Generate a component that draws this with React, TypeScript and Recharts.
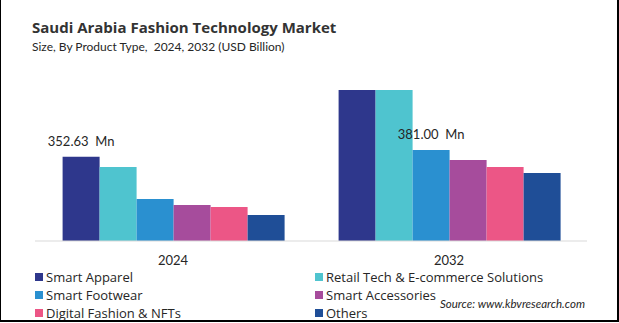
import { BarChart, Bar, XAxis, YAxis, LabelList } from 'recharts';

const years = ['2024', '2032'];
const segments = [
  'Smart Apparel',
  'Retail Tech & E-commerce Solutions',
  'Smart Footwear',
  'Smart Accessories',
  'Digital Fashion & NFTs',
  'Others',
];
const colors = ['#2e378c', '#4fc4cf', '#2a90d0', '#a64c9c', '#ec5686', '#1f4e97'];

// USD Mn
const smartApparel = [352.63, 633];
const retailTech = [310, 633];
const smartFootwear = [176, 381];
const smartAccessories = [151, 339];
const digitalFashion = [142, 310];
const others = [109, 285];

// which bars carry a value callout: series index -> year index
const callouts: Record<number, number> = { 0: 0, 2: 1 };

const series = [smartApparel, retailTech, smartFootwear, smartAccessories, digitalFashion, others];
const keys = ['s0', 's1', 's2', 's3', 's4', 's5'];

const data = years.map((y, i) => {
  const row: any = { year: y };
  series.forEach((s, k) => (row[keys[k]] = s[i]));
  return row;
});

const font = 'Lato, "Open Sans", sans-serif';
const wide = '"Open Sans", sans-serif';

const makeLabel = (k: number) => (p: any) => {
  if (callouts[k] !== p.index) return null;
  return (
    <text
      x={p.x + p.width / 2}
      y={p.y - 11}
      textAnchor="middle"
      fontSize={13}
      fill="#262626"
      fontFamily={font}
      style={{ whiteSpace: 'pre' }}
    >
      {`${Number(p.value).toFixed(2)}  Mn`}
    </text>
  );
};

const legendCols = [
  { left: 35, items: [0, 2, 4] },
  { left: 315, items: [1, 3, 5] },
];

export default function App() {
  return (
    <div style={{ position: 'absolute', top: 0, left: 0, width: 619, height: 323, background: '#fff', fontFamily: font }}>
      <div style={{ position: 'absolute', left: 32, top: 20, fontSize: 15, lineHeight: 1, fontWeight: 700, color: '#333', whiteSpace: 'nowrap', fontFamily: wide }}>
        Saudi Arabia Fashion Technology Market
      </div>
      <div style={{ position: 'absolute', left: 32, top: 41, fontSize: 12, lineHeight: 1, color: '#262626', whiteSpace: 'pre' }}>
        {'Size, By Product Type,  2024, 2032 (USD Billion)'}
      </div>

      <div style={{ position: 'absolute', left: 0, top: 0 }}>
        <BarChart width={619} height={323} data={data} margin={{ top: 74, right: 32, bottom: 52, left: 35 }} barCategoryGap="10%" barGap={0}>
          <XAxis
            dataKey="year"
            axisLine={{ stroke: '#d9d9d9' }}
            tickLine={false}
            tickMargin={9}
            height={30}
            tick={{ fontSize: 13, fill: '#262626', fontFamily: font }}
          />
          <YAxis hide domain={[0, 700]} />
          {keys.map((key, k) => (
            <Bar key={key} dataKey={key} name={segments[k]} fill={colors[k]} isAnimationActive={false}>
              <LabelList dataKey={key} content={makeLabel(k)} />
            </Bar>
          ))}
        </BarChart>
      </div>

      {legendCols.map((col, c) =>
        col.items.map((k, r) => (
          <div
            key={`${c}-${r}`}
            style={{ position: 'absolute', left: col.left, top: 270 + r * 18, height: 14, display: 'flex', alignItems: 'center', whiteSpace: 'nowrap', fontFamily: wide }}
          >
            <span style={{ width: 8, height: 8, background: colors[k], marginRight: 3, display: 'inline-block' }} />
            <span style={{ fontSize: 13, color: '#262626', lineHeight: 1 }}>{segments[k]}</span>
          </div>
        ))
      )}

      <div style={{ position: 'absolute', left: 440, top: 298, fontSize: 11.5, lineHeight: 1, fontStyle: 'italic', color: '#262626', whiteSpace: 'nowrap' }}>
        Source: www.kbvresearch.com
      </div>

      <div
        style={{
          position: 'absolute',
          left: 0,
          top: 0,
          width: 619,
          height: 322,
          boxSizing: 'border-box',
          borderLeft: '1px solid #000',
          borderRight: '2px solid #000',
          borderBottom: '2px solid #000',
          pointerEvents: 'none',
        }}
      />
    </div>
  );
}
